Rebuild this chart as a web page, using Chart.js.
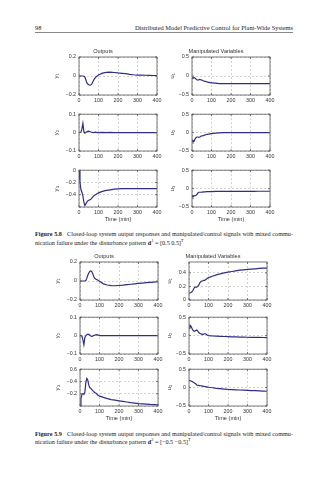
<!DOCTYPE html>
<html><head><meta charset="utf-8">
<script src="https://cdn.jsdelivr.net/npm/chart.js@4/dist/chart.umd.min.js"></script>
<style>
body{margin:0;background:#fff;width:334px;height:480px;position:relative;overflow:hidden;font-family:"Liberation Serif","DejaVu Serif",serif;color:#222}
canvas{position:absolute}
.t{position:absolute;white-space:nowrap;font-size:6.4px;line-height:7px}
.cap{position:absolute;left:35px;font-size:6.2px;line-height:8px;white-space:nowrap}
.cap2{position:absolute;left:35px;font-size:6.2px;line-height:8px;white-space:nowrap}
sup{font-size:70%;vertical-align:super;line-height:0}
</style></head><body>
<div class="t" style="left:35px;top:24px">98</div>
<div class="t" style="right:41px;top:24px">Distributed Model Predictive Control for Plant-Wide Systems</div>
<div style="position:absolute;left:35px;top:32px;width:258px;height:0;border-top:0.7px solid #888"></div>
<div class="cap" style="top:230px"><b>Figure 5.8</b>&nbsp;&nbsp; Closed-loop system output responses and manipulated/control signals with mixed commu-</div>
<div class="cap2" style="top:238.7px">nication failure under the disturbance pattern <b>d</b><sup>1</sup> = [0.5 0.5]<sup>T</sup></div>
<div class="cap" style="top:430.3px"><b>Figure 5.9</b>&nbsp;&nbsp; Closed-loop system output responses and manipulated/control signals with mixed commu-</div>
<div class="cap2" style="top:438.3px">nication failure under the disturbance pattern <b>d</b><sup>2</sup> = [&minus;0.5 &minus;0.5]<sup>T</sup></div>
<script>
// ---- data ----
const time = [0,5,10,15,20,25,30,35,40,45,50,55,60,65,70,75,80,85,90,95,100,120,140,160,180,200,220,240,260,280,300,320,340,360,380,400];

const f58_y1 = [0,0,0,0,0,-0.002,-0.01,-0.04,-0.07,-0.085,-0.093,-0.097,-0.095,-0.085,-0.065,-0.045,-0.028,-0.015,-0.005,0.003,0.01,0.03,0.038,0.04,0.037,0.032,0.028,0.024,0.018,0.013,0.01,0.009,0.008,0.007,0.005,0.004];
const f58_y2 = [0,0,0.002,0.02,0.05,0.005,-0.003,0,0.004,0.007,0.008,0.006,0.003,0.002,0.001,0,0.001,0.002,0.001,0,0,0.001,0,0.001,0,0,0,0,0,0,0,0,0,0,0,0];
const f58_y3 = [0,-0.2,-0.32,-0.36,-0.42,-0.52,-0.575,-0.55,-0.52,-0.5,-0.49,-0.485,-0.475,-0.46,-0.44,-0.42,-0.41,-0.4,-0.39,-0.38,-0.37,-0.345,-0.33,-0.32,-0.31,-0.305,-0.3,-0.3,-0.3,-0.3,-0.3,-0.3,-0.3,-0.3,-0.3,-0.3];
const f58_u1 = [-0.05,-0.06,-0.04,-0.05,-0.08,-0.1,-0.11,-0.1,-0.09,-0.1,-0.11,-0.12,-0.13,-0.14,-0.14,-0.15,-0.16,-0.17,-0.17,-0.18,-0.18,-0.19,-0.2,-0.2,-0.2,-0.2,-0.2,-0.2,-0.2,-0.2,-0.2,-0.2,-0.2,-0.2,-0.2,-0.2];
const f58_u2 = [-0.2,-0.25,-0.24,-0.18,-0.14,-0.12,-0.12,-0.13,-0.12,-0.1,-0.09,-0.09,-0.08,-0.07,-0.06,-0.05,-0.05,-0.04,-0.04,-0.03,-0.03,-0.015,-0.008,-0.003,0,0,0,0,0,0,0,0,0,0,0,0];
const f58_u3 = [-0.18,-0.23,-0.2,-0.19,-0.18,-0.16,-0.12,-0.1,-0.1,-0.1,-0.095,-0.095,-0.09,-0.09,-0.088,-0.085,-0.085,-0.083,-0.082,-0.08,-0.08,-0.078,-0.077,-0.076,-0.075,-0.075,-0.075,-0.074,-0.074,-0.073,-0.073,-0.073,-0.072,-0.072,-0.072,-0.072];

const f59_y1 = [0,0,0,0,0,0,0.005,0.03,0.06,0.085,0.1,0.105,0.1,0.08,0.05,0.03,0.02,0.015,0.01,0.005,-0.002,-0.03,-0.042,-0.048,-0.05,-0.047,-0.043,-0.038,-0.034,-0.03,-0.026,-0.022,-0.018,-0.014,-0.011,-0.008];
const f59_y2 = [0,0,-0.002,-0.025,-0.05,-0.01,0,0.005,0.008,0.007,0.003,-0.002,-0.004,-0.003,0,0.002,0.004,0.005,0.004,0.002,0,0,0,0,0,0,0,0,0,0,0,0,0,0,0,0];
const f59_y3 = [0,0.12,0.19,0.2,0.19,0.23,0.38,0.45,0.42,0.34,0.3,0.29,0.27,0.25,0.24,0.22,0.21,0.2,0.18,0.17,0.16,0.14,0.12,0.105,0.095,0.085,0.075,0.065,0.055,0.047,0.04,0.035,0.03,0.025,0.022,0.02];
const f59_u1 = [0.1,0.1,0.11,0.12,0.14,0.17,0.19,0.19,0.19,0.2,0.22,0.25,0.27,0.28,0.28,0.29,0.29,0.3,0.31,0.32,0.33,0.35,0.37,0.385,0.4,0.41,0.42,0.43,0.44,0.445,0.45,0.455,0.46,0.465,0.47,0.47];
const f59_u2 = [0.2,0.28,0.26,0.2,0.15,0.12,0.12,0.14,0.15,0.12,0.09,0.06,0.05,0.04,0.03,0.04,0.05,0.05,0.03,0.01,0,-0.01,-0.015,-0.02,-0.025,-0.03,-0.033,-0.036,-0.04,-0.042,-0.045,-0.047,-0.05,-0.05,-0.052,-0.055];
const f59_u3 = [0.2,0.19,0.18,0.17,0.15,0.14,0.12,0.1,0.07,0.06,0.06,0.055,0.05,0.045,0.04,0.035,0.03,0.025,0.02,0.015,0.01,-0.005,-0.02,-0.03,-0.04,-0.05,-0.055,-0.06,-0.065,-0.07,-0.075,-0.08,-0.085,-0.09,-0.095,-0.1];

// ---- tick labels ----
const xTicks = [0,100,200,300,400];
const xTickLabels = ["0","100","200","300","400"];
const ticks02 = [-0.2,0,0.2], labels02 = ["\u22120.2","0","0.2"];
const ticks01 = [-0.1,0,0.1], labels01 = ["\u22120.1","0","0.1"];
const ticks05 = [-0.5,0,0.5], labels05 = ["\u22120.5","0","0.5"];
const ticks58y3 = [-0.6,-0.4,-0.2,0], labels58y3 = ["","\u22120.4","\u22120.2","0"];
const ticks59y3 = [0,0.2,0.4,0.6], labels59y3 = ["","\u22120.2","\u22120.4","0.6"];
const ticks59u1 = [0,0.2,0.4], labels59u1 = ["0","0.2","0.4"];

// ---- captions: stretch first lines to the text block width ----
document.querySelectorAll('.cap').forEach(el => {
  const n = (el.textContent.match(/[ \u00a0]/g) || []).length;
  const extra = 258 - el.getBoundingClientRect().width;
  if (n) el.style.wordSpacing = (extra / n) + 'px';
});

// ---- drawing ----
const SANS = "'Liberation Sans','DejaVu Sans',Arial,sans-serif";
const LINE = '#2e2e86', GRID = '#b4b4b4', TXT = '#333';
const L = 30, R = 7;

const boxPlugin = {id:'box', afterDraw(chart){
  const {ctx, chartArea:a, scales} = chart;
  ctx.save(); ctx.strokeStyle = '#5a5a5a'; ctx.lineWidth = 0.8;
  ctx.strokeRect(a.left, a.top, a.right - a.left, a.bottom - a.top);
  ctx.beginPath();
  scales.x.ticks.forEach(t => { const p = scales.x.getPixelForValue(t.value);
    ctx.moveTo(p, a.bottom); ctx.lineTo(p, a.bottom - 2); ctx.moveTo(p, a.top); ctx.lineTo(p, a.top + 2); });
  scales.y.ticks.forEach(t => { const p = scales.y.getPixelForValue(t.value);
    ctx.moveTo(a.left, p); ctx.lineTo(a.left + 2, p); ctx.moveTo(a.right, p); ctx.lineTo(a.right - 2, p); });
  ctx.stroke(); ctx.restore();
}};

const plots = [
  {x:79, y:57, data:f58_y1, min:-0.2, max:0.2, yt:ticks02, yl:labels02, ytitle:'y\u2081', title:'Outputs', off:22.5},
  {x:79, y:113, data:f58_y2, min:-0.1, max:0.1, yt:ticks01, yl:labels01, ytitle:'y\u2082', off:22.5},
  {x:79, y:169, data:f58_y3, min:-0.6, max:0, yt:ticks58y3, yl:labels58y3, ytitle:'y\u2083', xtitle:'Time (min)', off:22.5},
  {x:192, y:57, data:f58_u1, min:-0.5, max:0.5, yt:ticks05, yl:labels05, ytitle:'u\u2081', title:'Manipulated Variables', off:20},
  {x:192, y:113, data:f58_u2, min:-0.5, max:0.5, yt:ticks05, yl:labels05, ytitle:'u\u2082', off:20},
  {x:192, y:169, data:f58_u3, min:-0.5, max:0.5, yt:ticks05, yl:labels05, ytitle:'u\u2083', xtitle:'Time (min)', off:20},
  {x:80, y:262, data:f59_y1, min:-0.2, max:0.2, yt:ticks02, yl:labels02, ytitle:'y\u2081', title:'Outputs', off:22.5},
  {x:80, y:316, data:f59_y2, min:-0.1, max:0.1, yt:ticks01, yl:labels01, ytitle:'y\u2082', off:22.5},
  {x:80, y:368, data:f59_y3, min:0, max:0.6, yt:ticks59y3, yl:labels59y3, ytitle:'y\u2083', xtitle:'Time (min)', off:22.5},
  {x:189, y:262, data:f59_u1, min:0, max:0.56, yt:ticks59u1, yl:labels59u1, ytitle:'u\u2081', title:'Manipulated Variables', off:20},
  {x:189, y:316, data:f59_u2, min:-0.5, max:0.5, yt:ticks05, yl:labels05, ytitle:'u\u2082', off:20},
  {x:189, y:368, data:f59_u3, min:-0.5, max:0.5, yt:ticks05, yl:labels05, ytitle:'u\u2083', xtitle:'Time (min)', off:20}
];

plots.forEach(p => {
  const w = 78, h = 38;
  const T = p.title ? 12 : 5;
  const B = p.xtitle ? 18 : 10;
  const TF = 5.6, TLH = TF * 1.2;
  const cv = document.createElement('canvas');
  cv.width = L + w + R; cv.height = T + h + B;
  cv.style.left = (p.x - L) + 'px'; cv.style.top = (p.y - T) + 'px';
  document.body.appendChild(cv);
  new Chart(cv, {
    type: 'line',
    data: {datasets: [{data: time.map((t, i) => ({x: t, y: p.data[i]})), borderColor: LINE, borderWidth: 1.2, pointRadius: 0, tension: 0, fill: false}]},
    options: {
      responsive: false, animation: false, devicePixelRatio: 1,
      layout: {padding: {left: 0, right: R, top: p.title ? T - TLH - 2.2 : T, bottom: 0}},
      plugins: {legend: {display: false}, tooltip: {enabled: false},
        title: {display: !!p.title, text: p.title || '', font: {family: SANS, size: TF, weight: 'normal'}, color: TXT, padding: {top: 0, bottom: 2.2}}},
      scales: {
        x: {type: 'linear', min: 0, max: 400,
          afterBuildTicks: s => { s.ticks = xTicks.map(v => ({value: v})); },
          afterFit: s => { s.height = B; },
          ticks: {callback: (v, i) => xTickLabels[i], font: {family: SANS, size: 5.3}, color: TXT, padding: 2, maxRotation: 0, autoSkip: false},
          grid: {drawTicks: false, color: GRID, lineWidth: 0.6},
          border: {display: false, dash: [2, 2]},
          title: {display: !!p.xtitle, text: p.xtitle || '', font: {family: SANS, size: TF}, color: TXT, padding: {top: 0, bottom: 2.6}}},
        y: {type: 'linear', min: p.min, max: p.max,
          afterBuildTicks: s => { s.ticks = p.yt.map(v => ({value: v})); },
          afterFit: s => { s.width = L; },
          ticks: {callback: (v, i) => p.yl[i], font: {family: SANS, size: 5.3}, color: TXT, padding: 3, autoSkip: false},
          grid: {drawTicks: false, color: GRID, lineWidth: 0.6},
          border: {display: false, dash: [2, 2]},
          title: {display: true, text: p.ytitle, font: {family: SANS, size: 6.2}, color: TXT, padding: {top: L - p.off - 3.7, bottom: 0}}}
      }
    },
    plugins: [boxPlugin]
  });
});
</script>
</body></html>
